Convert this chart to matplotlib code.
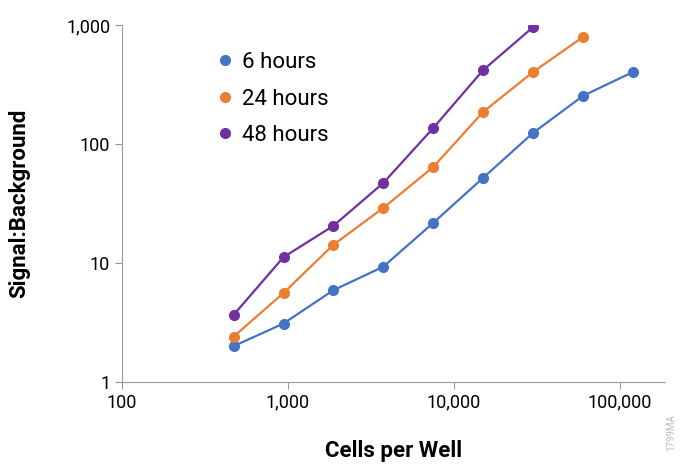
import matplotlib
matplotlib.use("Agg")
import matplotlib.pyplot as plt
from matplotlib.lines import Line2D
from matplotlib.ticker import FixedLocator, FixedFormatter, NullLocator

plt.rcParams['font.family'] = ['Roboto', 'DejaVu Sans']

cells = [470, 940, 1875, 3750, 7500, 15000, 30000, 60000, 120000]
sb6 = [2.0, 3.1, 5.9, 9.3, 21.7, 52, 124, 254, 403]
sb24 = [2.4, 5.6, 14.2, 29, 64, 186, 403, 794]
sb48 = [3.66, 11.2, 20.5, 47, 136, 418, 960]

series = [("6 hours", sb6, "#4472C4"),
          ("24 hours", sb24, "#ED7D31"),
          ("48 hours", sb48, "#7030A0")]

fig = plt.figure(figsize=(6.81, 4.65), dpi=100)
ax = fig.add_axes([122/681, 1-382/465, (665-122)/681, (382-25)/465])
handles = []
for name, vals, col in series:
    ax.plot(cells[:len(vals)], vals, color=col, marker='o', markersize=7, lw=1.6)
    handles.append(Line2D([], [], color=col, marker='o', markersize=7, ls='none', label=name))

ax.set_xscale('log')
ax.set_yscale('log')
ax.set_xlim(100, 187000)
ax.set_ylim(1, 1000)
xt = [100, 1000, 10000, 100000]
ax.xaxis.set_major_locator(FixedLocator(xt))
ax.xaxis.set_major_formatter(FixedFormatter(['100', '1,000', '10,000', '100,000']))
yt = [1, 10, 100, 1000]
ax.yaxis.set_major_locator(FixedLocator(yt))
ax.yaxis.set_major_formatter(FixedFormatter(['1', '10', '100', '1,000']))
ax.xaxis.set_minor_locator(NullLocator())
ax.yaxis.set_minor_locator(NullLocator())
for s in ['top', 'right']:
    ax.spines[s].set_visible(False)
for s in ['left', 'bottom']:
    ax.spines[s].set_color('#999999')
ax.tick_params(length=5, color='#999999', labelsize=13)
ax.set_xlabel('Cells per Well', fontsize=16, fontweight='bold', labelpad=20)
ax.set_ylabel('Signal:Background', fontsize=16, fontweight='bold', labelpad=26)
ax.legend(handles=handles, loc='upper left', bbox_to_anchor=(0.14, 0.98), frameon=False,
          fontsize=16, handlelength=0.6, handletextpad=0.5, labelspacing=0.7)
fig.text(0.993, 0.03, '1799MA', rotation=90, fontsize=7, color='#bbbbbb', ha='right', va='bottom')
fig.savefig('out.png')
